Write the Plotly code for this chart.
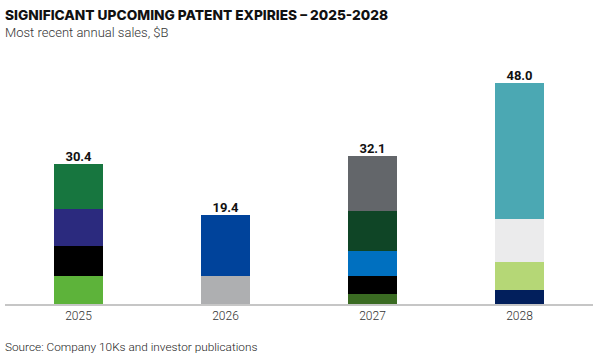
import plotly.graph_objects as go

years = ["2025", "2026", "2027", "2028"]
# stacked layers, bottom to top ($B); None where a year has fewer segments
layer1 = [6.2, 6.2, 2.2, 3.0]
layer2 = [6.5, 13.2, 3.9, 6.1]
layer3 = [7.95, None, 5.4, 9.3]
layer4 = [9.75, None, 8.8, 29.6]
layer5 = [None, None, 11.8, None]
totals = [30.4, 19.4, 32.1, 48.0]

colors1 = ["#5DB33A", "#AEAFB1", "#3A6B22", "#021F5C"]
colors2 = ["#000000", "#00439B", "#000000", "#B5D776"]
colors3 = ["#2B2A7E", "#FFFFFF", "#0070C0", "#EBEBEC"]
colors4 = ["#17763F", "#FFFFFF", "#0F4526", "#4BA8B3"]
colors5 = ["#FFFFFF", "#FFFFFF", "#63666A", "#FFFFFF"]

layers = [layer1, layer2, layer3, layer4, layer5]
layer_colors = [colors1, colors2, colors3, colors4, colors5]

fig = go.Figure()
for vals, cols in zip(layers, layer_colors):
    fig.add_trace(go.Bar(x=years, y=vals, marker=dict(color=cols, line=dict(width=0)),
                         showlegend=False, hoverinfo="skip"))

fig.add_trace(go.Scatter(x=years, y=totals, mode="text",
                         text=[f"<b>{t:.1f}</b>" for t in totals],
                         textposition="top center",
                         textfont=dict(family="Roboto", size=13, color="#111111"),
                         showlegend=False, hoverinfo="skip"))

fig.add_annotation(xref="paper", yref="paper", x=0, y=1.138, xanchor="left", yanchor="middle",
                   text="Most recent annual sales, $B", showarrow=False, xshift=-2,
                   font=dict(family="Roboto", size=13, weight=300, color="#333333"))
fig.add_annotation(xref="paper", yref="paper", x=0, y=-0.18, xanchor="left", yanchor="middle",
                   text="Source: Company 10Ks and investor publications", showarrow=False, xshift=-2,
                   font=dict(family="Roboto", size=11.8, weight=300, color="#222222"))

fig.update_layout(
    width=600, height=355,
    margin=dict(l=5, r=7, t=65, b=51, autoexpand=False),
    barmode="stack", bargap=0.667,
    plot_bgcolor="white", paper_bgcolor="white",
    title=dict(text="SIGNIFICANT UPCOMING PATENT EXPIRIES – 2025-2028",
               x=5/600, xref="container", xanchor="left",
               y=1-15/355, yref="container", yanchor="middle",
               font=dict(family="Inter", size=13.7, weight=800, color="#111111")),
    xaxis=dict(type="category", showline=True, linecolor="#C6C6C6", linewidth=1.5, ticks="",
               tickfont=dict(family="Roboto", size=12, weight=300, color="#333333"), showgrid=False,
               automargin=False),
    yaxis=dict(visible=False, range=[0, 52], showgrid=False, zeroline=False, automargin=False),
)

fig.write_html("out.html", config={"displayModeBar": False},
               post_script="document.body.style.margin='0';")
